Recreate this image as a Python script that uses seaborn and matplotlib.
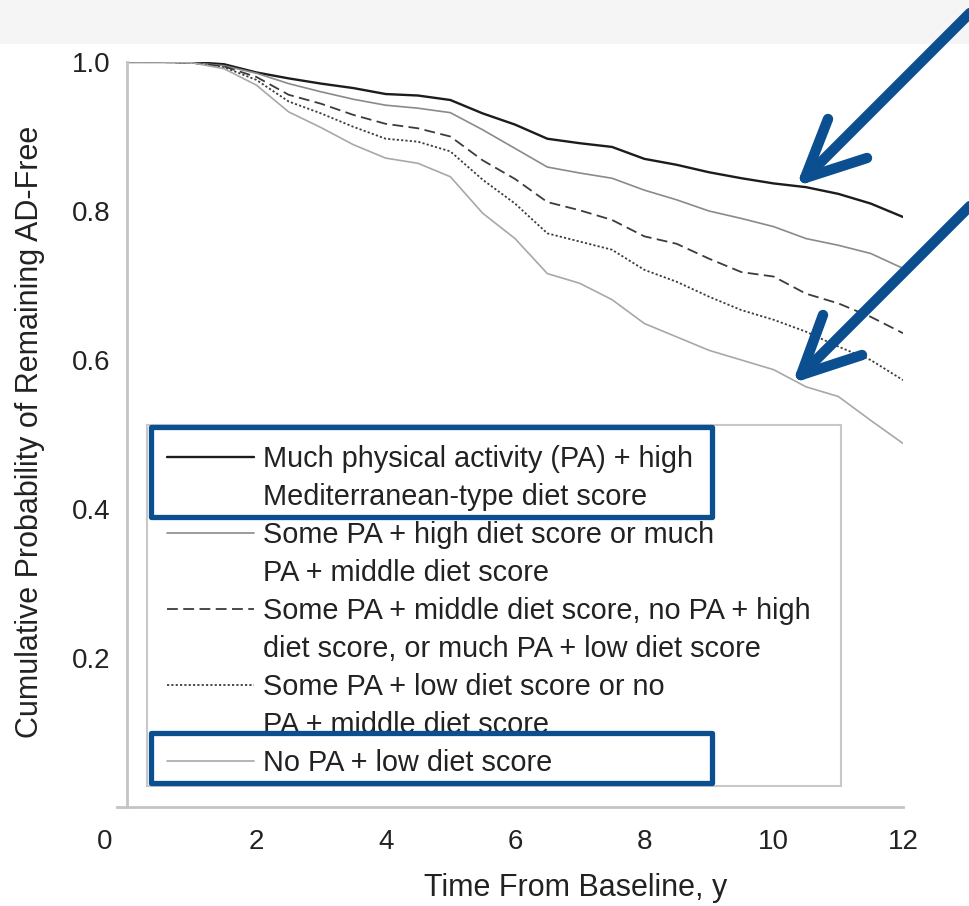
import numpy as np
import pandas as pd
import matplotlib
matplotlib.use("Agg")
import matplotlib.pyplot as plt
import seaborn as sns
from matplotlib.lines import Line2D
from matplotlib.patches import Rectangle
from matplotlib.transforms import ScaledTranslation

# ──────────────────────────────────────────
# DATA (every 0.5 y)
# ──────────────────────────────────────────
years = [0, 0.5, 1, 1.5, 2, 2.5, 3, 3.5, 4, 4.5, 5, 5.5, 6,
         6.5, 7, 7.5, 8, 8.5, 9, 9.5, 10, 10.5, 11, 11.5, 12]

much_pa_high_diet = [1.0, 1.0, 1.0, 0.997, 0.986, 0.978, 0.971, 0.965, 0.957, 0.955, 0.949, 0.931, 0.916,
                     0.897, 0.891, 0.886, 0.870, 0.862, 0.852, 0.844, 0.837, 0.832, 0.823, 0.810, 0.792]
some_pa_high_diet = [1.0, 1.0, 0.999, 0.995, 0.985, 0.971, 0.960, 0.950, 0.942, 0.938, 0.932, 0.909, 0.884,
                     0.859, 0.851, 0.844, 0.828, 0.815, 0.800, 0.790, 0.779, 0.763, 0.754, 0.743, 0.723]
some_pa_mid_diet = [1.0, 1.0, 0.999, 0.994, 0.980, 0.956, 0.944, 0.929, 0.917, 0.911, 0.900, 0.868, 0.843,
                    0.812, 0.801, 0.788, 0.766, 0.756, 0.736, 0.718, 0.712, 0.689, 0.676, 0.658, 0.636]
some_pa_low_diet = [1.0, 1.0, 0.999, 0.993, 0.976, 0.947, 0.931, 0.913, 0.897, 0.893, 0.880, 0.842, 0.810,
                    0.770, 0.759, 0.748, 0.721, 0.705, 0.685, 0.667, 0.654, 0.638, 0.618, 0.600, 0.573]
no_pa_low_diet = [1.0, 1.0, 0.999, 0.991, 0.969, 0.933, 0.912, 0.889, 0.871, 0.864, 0.846, 0.797, 0.763,
                  0.716, 0.703, 0.681, 0.649, 0.631, 0.613, 0.600, 0.587, 0.564, 0.551, 0.519, 0.488]

legend_lines = [
    ["Much physical activity (PA) + high", "Mediterranean-type diet score"],
    ["Some PA + high diet score or much", "PA + middle diet score"],
    ["Some PA + middle diet score, no PA + high", "diet score, or much PA + low diet score"],
    ["Some PA + low diet score or no", "PA + middle diet score"],
    ["No PA + low diet score"],
]

x_ticks = [0, 2, 4, 6, 8, 10, 12]
y_ticks = [0.2, 0.4, 0.6, 0.8, 1.0]

# ──────────────────────────────────────────
# STYLE
# ──────────────────────────────────────────
sns.set_style("white")
plt.rcParams["font.family"] = ["Liberation Sans", "DejaVu Sans"]

W, H = 969, 906
fig = plt.figure(figsize=(W / 100, H / 100), dpi=100)

def fx(px):
    return px / W

def fy(py):
    return 1 - py / H

# top light strip
fig.patches.append(Rectangle((0, fy(44)), 1, 44 / H, transform=fig.transFigure,
                             facecolor="#f5f5f5", edgecolor="none", zorder=0))

ax = fig.add_axes([fx(117), fy(807), fx(903) - fx(117), fy(62) - fy(807)])
ax.set_facecolor("none")

series = [
    (much_pa_high_diet, dict(color="#1c1c1c", lw=1.7, linestyle="-")),
    (some_pa_high_diet, dict(color="#8a8a8a", lw=1.2, linestyle="-")),
    (some_pa_mid_diet, dict(color="#3c3c3c", lw=1.3, linestyle=(0, (6, 3)))),
    (some_pa_low_diet, dict(color="#3c3c3c", lw=1.3, linestyle=(0, (1.2, 1.2)))),
    (no_pa_low_diet, dict(color="#a8a8a8", lw=1.2, linestyle="-")),
]
for vals, kw in series:
    sns.lineplot(x=years, y=vals, ax=ax, legend=False, **kw)

ax.set_xlim(-0.155, 12)
ax.set_ylim(0, 1.0)
ax.set_xticks(x_ticks)
ax.set_xticklabels([str(t) for t in x_ticks])
ax.set_yticks(y_ticks)
ax.set_yticklabels([f"{t:.1f}" for t in y_ticks])
ax.spines["left"].set_position(("data", 0))
for s in ["top", "right"]:
    ax.spines[s].set_visible(False)
for s in ["left", "bottom"]:
    ax.spines[s].set_color("#c4c4c4")
    ax.spines[s].set_linewidth(2.0)
ax.tick_params(axis="both", direction="out", length=6, width=1.0, color="#9a9a9a",
               labelsize=20, labelcolor="#222222")
ax.tick_params(axis="x", pad=10)
ax.tick_params(axis="y", pad=6)
# the "0" label sits left of its tick in the reference
lab0 = ax.get_xticklabels()[0]
lab0.set_transform(lab0.get_transform() + ScaledTranslation(-0.22, 0, fig.dpi_scale_trans))

ax.set_xlabel("Time From Baseline, y", fontsize=22, color="#222222")
ax.set_ylabel("Cumulative Probability of Remaining AD-Free", fontsize=22, color="#222222")
ax.xaxis.set_label_coords((576 - 117) / 786, (807 - 888) / 745)
ax.xaxis.label.set_va("center")
ax.yaxis.set_label_coords((30 - 117) / 786, (807 - 432) / 745)
ax.yaxis.label.set_va("center")

# ──────────────────────────────────────────
# LEGEND (one row per text line, handle on first line)
# ──────────────────────────────────────────
handles, labels = [], []
for (vals, kw), lines in zip(series, legend_lines):
    handles.append(Line2D([], [], **kw))
    labels.append(lines[0])
    for extra in lines[1:]:
        handles.append(Line2D([], [], color="none"))
        labels.append(extra)

ax.add_patch(Rectangle((fx(147), fy(786)), fx(841) - fx(147), fy(425) - fy(786),
                       transform=fig.transFigure, facecolor="white",
                       edgecolor="#c8c8c8", lw=1.5, zorder=3))
leg = ax.legend(handles, labels, loc="upper left", bbox_to_anchor=(fx(167), fy(445)),
                bbox_transform=fig.transFigure, frameon=False, borderpad=0, borderaxespad=0,
                fontsize=20.8, handlelength=3.0, handletextpad=0.33, labelspacing=0.346)
leg.set_zorder(4)
for t in leg.get_texts():
    t.set_color("#222222")

# blue highlight boxes
for top, bot in [(427, 517), (733, 783)]:
    fig.patches.append(Rectangle((fx(151), fy(bot)), fx(712) - fx(151), fy(top) - fy(bot),
                                 transform=fig.transFigure, facecolor="none",
                                 edgecolor="#0b4f91", lw=3.8, joinstyle="round", zorder=5))

# blue arrows
blue = "#0b4f91"
for tip, start, arm1, arm2 in [((805, 178), (975, 8), (828, 119), (867, 158)),
                               ((801, 375), (975, 201), (823, 315), (862, 355))]:
    for p in [start, arm1, arm2]:
        fig.lines.append(Line2D([fx(tip[0]), fx(p[0])], [fy(tip[1]), fy(p[1])],
                                transform=fig.transFigure, color=blue, lw=7.5,
                                solid_capstyle="round", zorder=6))

plt.savefig("out.png", dpi=100)
